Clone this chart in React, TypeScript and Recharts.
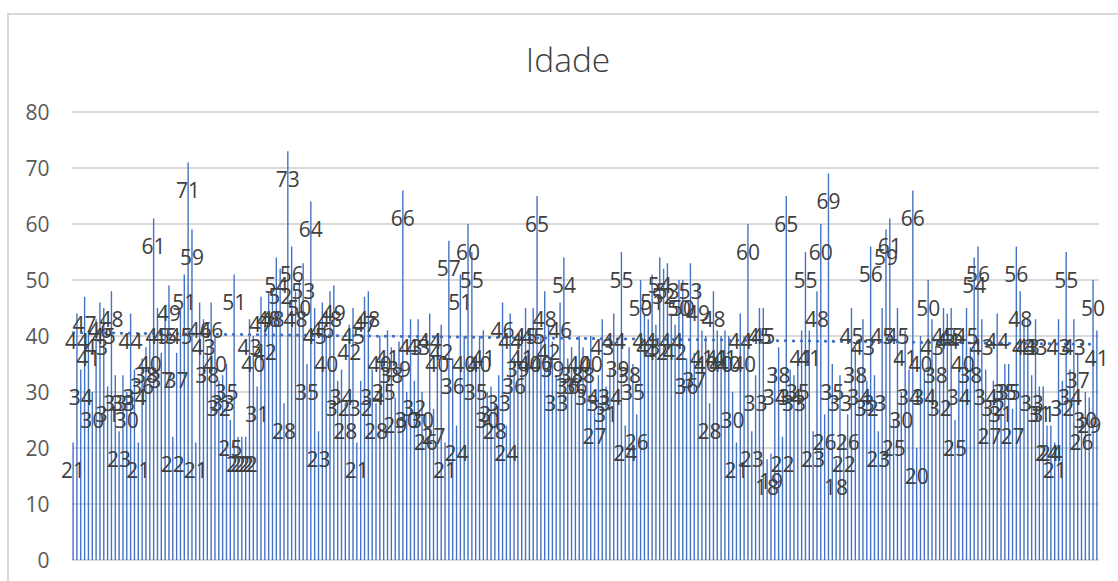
import React from "react";
import { ComposedChart, Bar, Line, XAxis, YAxis, CartesianGrid, LabelList } from "recharts";

const title = "Idade";
const yTicks = [0, 10, 20, 30, 40, 50, 60, 70, 80];
const ages = [
  21,44,34,47,41,30,43,46,45,31,48,33,23,33,30,44,34,21,36,38,40,61,45,37,45,49,22,37,45,51,
  71,59,21,46,43,38,46,40,32,33,35,25,51,22,22,22,43,40,31,47,42,48,48,54,52,28,73,56,48,50,
  53,35,64,45,23,46,40,48,49,32,34,28,42,45,21,32,47,48,34,28,40,35,41,38,29,39,66,30,43,32,
  43,30,26,44,27,40,42,21,57,36,24,51,40,60,55,35,40,41,30,31,28,33,46,24,44,36,39,41,45,40,
  45,65,40,48,42,39,33,46,54,36,38,36,40,38,34,40,27,33,43,31,34,44,39,55,24,38,35,26,50,44,
  43,51,42,54,52,53,44,42,50,50,36,53,37,49,41,40,28,48,41,40,41,40,30,21,44,40,60,23,33,45,
  45,18,19,34,38,22,65,34,33,35,41,55,41,23,48,60,26,69,35,18,33,22,26,45,38,34,43,32,56,33,
  23,45,59,61,25,45,30,41,34,66,20,40,34,50,43,38,32,45,44,45,25,34,40,45,38,54,56,43,34,27,
  32,44,31,35,35,27,56,48,43,43,33,43,31,31,24,24,21,43,32,55,34,43,37,26,30,29,50,41,
];
const trendStart = 40.6;
const trendEnd = 38.5;

const data = ages.map((age, i) => ({
  id: String(i + 1),
  age,
  trend: i === 0 ? trendStart : i === ages.length - 1 ? trendEnd : null,
}));

const FONT = "'Open Sans', sans-serif";

const BarLabel = (props: any) => {
  const { x, y, width, value } = props;
  return (
    <text x={x + width / 2} y={y + 35.5} textAnchor="middle" fontSize={21} fontFamily={FONT} fill="#404040">
      {value}
    </text>
  );
};

export default function App() {
  return (
    <div style={{ position: "absolute", left: 0, top: 0, width: 1118, height: 581, overflow: "hidden", background: "#fff" }}>
      <div style={{ position: "absolute", left: 7, top: 13, width: 1200, height: 700, border: "2px solid #D9D9D9", boxSizing: "border-box" }} />
      <div style={{ position: "absolute", left: 0, width: 1136, top: 36, textAlign: "center", fontFamily: FONT, fontWeight: 300, fontSize: 33.5, lineHeight: "46px", color: "#404040" }}>
        {title}
      </div>
      <div style={{ position: "absolute", left: 0, top: 0 }}>
        <ComposedChart width={1118} height={581} data={data} margin={{ top: 112, right: 19, bottom: 21, left: 0 }} barCategoryGap={0}>
          <CartesianGrid vertical={false} stroke="#D9D9D9" strokeWidth={2} />
          <XAxis dataKey="id" hide />
          <YAxis
            width={71.4}
            domain={[0, 80]}
            ticks={yTicks}
            axisLine={false}
            tickLine={false}
            tickSize={0}
            tickMargin={22}
            dy={1}
            tick={{ fontSize: 21, fontFamily: FONT, fill: "#595959", dy: 1 }}
          />
          <Bar dataKey="age" fill="#4472C4" barSize={1.4} isAnimationActive={false}>
            <LabelList dataKey="age" content={BarLabel} />
          </Bar>
          <Line
            dataKey="trend"
            connectNulls
            dot={false}
            activeDot={false}
            stroke="#4472C4"
            strokeWidth={3}
            strokeLinecap="round"
            strokeDasharray="0.5 7.5"
            isAnimationActive={false}
          />
        </ComposedChart>
      </div>
    </div>
  );
}
